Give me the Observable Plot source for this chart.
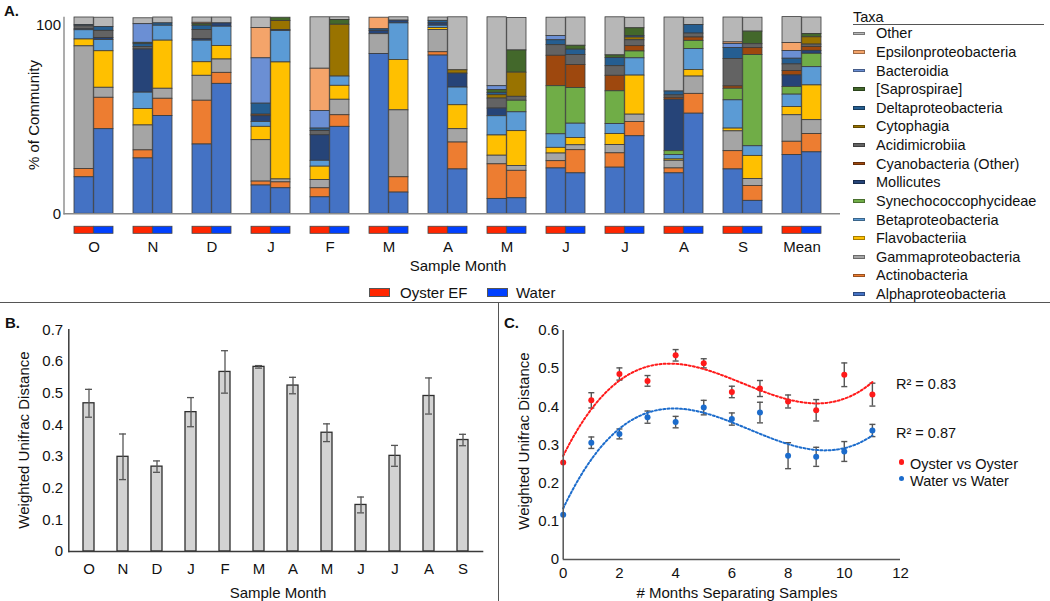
<!DOCTYPE html>
<html><head><meta charset="utf-8">
<script src="https://cdn.jsdelivr.net/npm/d3@7"></script>
<script src="https://cdn.jsdelivr.net/npm/@observablehq/plot@0.6"></script>
<style>
body{margin:0;background:#fff;font-family:"Liberation Sans",Arial,sans-serif;color:#111;}
#root{position:relative;width:1050px;height:601px;overflow:hidden;background:#fff;}
.t{position:absolute;white-space:nowrap;line-height:1;}
</style></head>
<body><div id="root"></div>
<script>
// ---------- Panel A data ----------
const groupsA = ["O","N","D","J","F","M","A","M","J","J","A","S","Mean"];
const sampleTypes = ["Oyster EF","Water"];
const taxa = ["Other","Epsilonproteobacteria","Bacteroidia","[Saprospirae]","Deltaproteobacteria","Cytophagia","Acidimicrobiia","Cyanobacteria (Other)","Mollicutes","Synechococcophycideae","Betaproteobacteria","Flavobacteriia","Gammaproteobacteria","Actinobacteria","Alphaproteobacteria"];
const taxaColors = ["#b7b7b7","#f4a46a","#6b8fd4","#43682b","#255e91","#997300","#636363","#9e480e","#264478","#70ad47","#5b9bd5","#ffc000","#a5a5a5","#ed7d31","#4472c4"];
// values per bar: O-oyster, O-water, N-oyster, N-water, ... Mean-oyster, Mean-water (% of community)
const other    = [3.8,4.7, 3.0,3.0, 2.7,3.0, 5.4,0, 26.2,1.4, 0,1.7, 1.7,27.0, 35.1,16.6, 9.3,14.4, 19.4,5.4, 37.7,3.7, 12.7,7.1, 13.2,8.4];
const epsilon  = [0,0, 0,0, 0.7,0, 15.4,0, 21.5,0, 5.9,0, 0,0, 0,0, 0,0, 0,0, 0,0, 0.8,0, 4.1,0];
const bacteroidia = [0,0, 9.5,0, 0,0, 23.1,0, 9.0,0, 0,0, 0,0, 2.0,0, 2.2,0, 0,0, 0,0, 2.0,0, 3.9,0];
const saprospirae = [0,0, 0.7,0, 0.8,0, 0,1.7, 0,2.4, 0,0, 0,0, 1.4,11.3, 0,2.0, 1.4,3.9, 0,0, 0,6.4, 0,1.7];
const delta    = [0.7,2.0, 1.5,1.2, 2.2,0, 5.6,0, 1.2,0, 0.8,0, 1.3,0, 1.2,0, 2.5,2.7, 4.1,0.8, 2.0,4.4, 5.6,0, 2.9,0];
const cytophagia = [0,0, 0,0, 0,0, 0,4.6, 0,26.4, 0,0, 0,1.7, 1.7,12.3, 0,0, 0,1.4, 0,0, 0,0, 0,3.7];
const acidimicrobiia = [1.5,3.7, 1.2,0, 4.6,0, 0,0, 2.2,0, 0,0, 0,0, 5.1,2.0, 5.4,5.1, 4.9,3.0, 1.2,2.0, 14.0,2.0, 3.4,1.2];
const cyanobacteria = [0,0, 0,0, 0,0, 0.8,0, 0,0, 0,0, 0,0, 0,0, 15.5,11.7, 7.9,2.7, 1.0,1.7, 1.2,3.5, 2.2,2.0];
const mollicutes = [0.5,1.0, 22.0,0, 0.8,1.7, 2.9,0.5, 13.0,0, 1.7,1.4, 1.2,7.1, 3.9,0, 0,0, 0,0, 26.2,0, 0,0, 5.9,1.5];
const synecho  = [0,0, 0,0, 0,0, 0,0, 0,0, 0,0, 0,0, 0,5.9, 24.5,18.2, 16.7,3.5, 2.0,4.2, 5.9,46.5, 3.9,6.8];
const beta     = [4.7,5.7, 8.3,7.6, 11.0,9.8, 2.5,16.0, 3.0,4.7, 0,18.6, 1.2,9.0, 9.8,9.6, 6.9,7.3, 5.1,8.8, 2.2,10.6, 14.4,4.9, 6.3,9.3];
const flavo    = [3.5,18.6, 8.4,24.5, 6.9,6.9, 6.8,59.6, 6.8,7.1, 0,25.7, 1.0,12.2, 10.3,17.7, 2.9,3.7, 5.6,19.9, 0.7,3.4, 1.4,11.8, 4.2,17.7];
const gamma    = [62.5,5.1, 12.7,5.1, 12.7,6.8, 21.1,1.5, 4.2,7.9, 10.1,34.1, 11.3,6.8, 4.4,2.5, 3.9,2.5, 4.2,3.7, 3.9,8.8, 10.1,3.5, 13.5,7.1];
const actino   = [4.2,16.0, 4.1,8.8, 22.3,5.6, 2.0,3.0, 4.6,5.9, 0,7.8, 1.7,13.7, 17.6,14.0, 3.7,11.8, 7.3,7.3, 2.5,10.1, 9.3,7.6, 6.8,9.3];
const alpha    = [18.6,43.1, 28.2,49.8, 35.3,66.2, 14.4,13.0, 8.4,44.3, 81.4,10.8, 80.6,22.6, 7.6,7.9, 23.1,20.6, 23.5,39.5, 20.6,51.0, 22.6,6.6, 29.9,31.3];
const taxaValues = [other,epsilon,bacteroidia,saprospirae,delta,cytophagia,acidimicrobiia,cyanobacteria,mollicutes,synecho,beta,flavo,gamma,actino,alpha];
const yTicksA = [0,100];

// ---------- Panel B data ----------
const monthsB = ["O","N","D","J","F","M","A","M","J","J","A","S"];
const distB = [0.468,0.299,0.268,0.440,0.567,0.583,0.524,0.375,0.147,0.302,0.491,0.352];
const errB  = [0.044,0.072,0.018,0.046,0.067,0.004,0.026,0.028,0.025,0.033,0.057,0.018];
const yTicksB = [0,0.1,0.2,0.3,0.4,0.5,0.6,0.7];

// ---------- Panel C data ----------
const monthsApart = [0,1,2,3,4,5,6,7,8,9,10,11];
const oysterDist = [0.254,0.417,0.486,0.468,0.535,0.514,0.439,0.448,0.414,0.391,0.484,0.432];
const oysterErr  = [0,0.020,0.016,0.014,0.015,0.012,0.015,0.021,0.017,0.028,0.031,0.030];
const waterDist  = [0.117,0.306,0.329,0.373,0.360,0.398,0.368,0.385,0.272,0.269,0.283,0.338];
const waterErr   = [0,0.015,0.013,0.016,0.015,0.019,0.016,0.027,0.034,0.025,0.026,0.016];
const xTicksC = [0,2,4,6,8,10,12];
const yTicksC = [0,0.1,0.2,0.3,0.4,0.5,0.6];
const r2Labels = ["R² = 0.83","R² = 0.87"];

// ---------- helpers ----------
const root = document.getElementById("root");
const FONT = "Liberation Sans, Arial, sans-serif";
function place(svg, left, top){ svg.style.position="absolute"; svg.style.left=left+"px"; svg.style.top=top+"px"; svg.style.overflow="visible"; root.appendChild(svg); }
function text(str, cx, cy, opts={}){
  const d=document.createElement("div"); d.className="t"; d.textContent=str;
  d.style.fontSize=(opts.size||15)+"px"; if(opts.bold) d.style.fontWeight="bold";
  d.style.left=cx+"px"; d.style.top=cy+"px";
  const ax = opts.align==="left" ? "0" : "-50%";
  d.style.transform=`translate(${ax},-50%)`;
  if(opts.rotate){ d.style.transformOrigin="0 0"; d.style.transform="rotate(-90deg) translate(-50%,-50%)"; }
  root.appendChild(d); return d;
}
function box(left, top, w, h, bg, border){
  const d=document.createElement("div"); d.style.position="absolute";
  d.style.left=left+"px"; d.style.top=top+"px"; d.style.width=w+"px"; d.style.height=h+"px";
  d.style.background=bg; if(border) d.style.border=border; d.style.boxSizing="border-box";
  root.appendChild(d); return d;
}
const fmt1 = d => d===0 ? "0" : d3.format(".1f")(d);

// ---------- Panel A ----------
const rowsA = [];
taxa.forEach((t,k)=> taxaValues[k].forEach((v,j)=>{ if(v>0) rowsA.push({taxon:t, group:Math.floor(j/2), type:sampleTypes[j%2], pct:v}); }));
const wA=845, hA=300, mlA=63.5, mrA=5, pinA=0.334, poutA=0.2196;
const stepA=(wA-mlA-mrA)/(groupsA.length-pinA+2*poutA);
const halfA=stepA*(1-pinA)/2;
const stackOrder = taxa.slice().reverse();
const groupKeys = groupsA.map((g,i)=>i);
const barStyle = {stroke:"#3a3a3a", strokeWidth:0.8};
const plotA = Plot.plot({
  width:wA, height:hA, marginLeft:mlA, marginRight:mrA, marginTop:17, marginBottom:86.7,
  style:{fontFamily:FONT, fontSize:"15px", color:"#111", background:"transparent"},
  x:{type:"band", domain:groupKeys, paddingInner:pinA, paddingOuter:poutA, align:0.358, axis:null},
  y:{domain:[0,100], axis:null},
  color:{type:"ordinal", domain:taxa, range:taxaColors},
  marks:[
    Plot.barY(rowsA.filter(d=>d.type==="Oyster EF"), Plot.stackY({order:stackOrder},{x:"group", y:"pct", z:"taxon", fill:"taxon", insetRight:halfA, ...barStyle})),
    Plot.barY(rowsA.filter(d=>d.type==="Water"), Plot.stackY({order:stackOrder},{x:"group", y:"pct", z:"taxon", fill:"taxon", insetLeft:halfA, ...barStyle})),
    Plot.barY(groupKeys, {x:d=>d, y1:-6.6, y2:-10.2, fill:"#ff2600", stroke:"#444", strokeWidth:0.8, insetRight:halfA}),
    Plot.barY(groupKeys, {x:d=>d, y1:-6.6, y2:-10.2, fill:"#0040ff", stroke:"#444", strokeWidth:0.8, insetLeft:halfA}),
    Plot.ruleY([0], {stroke:"#8a8a8a", strokeWidth:1.4}),
    Plot.frame({anchor:"left", stroke:"#8a8a8a", strokeWidth:1.4}),
    Plot.axisY({ticks:[yTicksA[0]], tickSize:0, tickPadding:3, fontSize:15, label:null}),
    Plot.axisY({ticks:[yTicksA[1]], tickSize:0, tickPadding:3, dy:8, fontSize:15, label:null}),
    Plot.axisX({tickSize:0, tickPadding:28, tickFormat:i=>groupsA[i], fontSize:15, label:null})
  ]
});
place(plotA, 0, 0);

// ---------- Panel B ----------
const rowsB = monthsB.map((m,i)=>({i, v:distB[i], e:errB[i]}));
const errColor = "#555";
const plotB = Plot.plot({
  width:497, height:296, marginLeft:68.3, marginRight:13.7, marginTop:24.3, marginBottom:50,
  style:{fontFamily:FONT, fontSize:"15px", color:"#111", background:"transparent"},
  x:{type:"band", domain:d3.range(monthsB.length), paddingInner:0.68, paddingOuter:0.34, axis:null},
  y:{domain:[0,0.7], axis:null},
  marks:[
    Plot.barY(rowsB, {x:"i", y:"v", fill:"#d3d3d3", stroke:"#2e2e2e", strokeWidth:1.3}),
    Plot.ruleX(rowsB, {x:"i", y1:d=>d.v-d.e, y2:d=>d.v+d.e, stroke:errColor, strokeWidth:1.3}),
    Plot.tickY(rowsB, {x:"i", y:d=>d.v-d.e, insetLeft:2, insetRight:2, stroke:errColor, strokeWidth:1.3}),
    Plot.tickY(rowsB, {x:"i", y:d=>d.v+d.e, insetLeft:2, insetRight:2, stroke:errColor, strokeWidth:1.3}),
    Plot.ruleY([0], {stroke:"#3a3a3a", strokeWidth:1.5}),
    Plot.frame({anchor:"left", stroke:"#3a3a3a", strokeWidth:1.5}),
    Plot.axisY({ticks:yTicksB, tickSize:0, tickPadding:5.6, tickFormat:fmt1, fontSize:15, label:null}),
    Plot.axisX({tickSize:0, tickPadding:11.6, tickFormat:i=>monthsB[i], fontSize:15, label:null})
  ]
});
place(plotB, 0, 305);

// ---------- Panel C ----------
function cubicFit(xs, ys){
  const n=4, A=Array.from({length:n},()=>Array(n+1).fill(0));
  xs.forEach((x,k)=>{ for(let i=0;i<n;i++){ for(let j=0;j<n;j++) A[i][j]+=Math.pow(x,i+j); A[i][n]+=ys[k]*Math.pow(x,i);} });
  for(let i=0;i<n;i++){
    let p=i; for(let r=i+1;r<n;r++) if(Math.abs(A[r][i])>Math.abs(A[p][i])) p=r;
    [A[i],A[p]]=[A[p],A[i]];
    for(let r=0;r<n;r++) if(r!==i){ const f=A[r][i]/A[i][i]; for(let c=i;c<=n;c++) A[r][c]-=f*A[i][c]; }
  }
  return A.map((row,i)=>row[n]/row[i]);
}
const series = [
  {name:"Oyster vs Oyster", color:"#ff1a1a", ys:oysterDist, es:oysterErr},
  {name:"Water vs Water", color:"#1c6ccc", ys:waterDist, es:waterErr}
];
const ptsC = [], fitC = [];
series.forEach(s=>{
  monthsApart.forEach((x,i)=>ptsC.push({s:s.name, color:s.color, x, v:s.ys[i], e:s.es[i]}));
  const c = cubicFit(monthsApart, s.ys);
  const x0 = monthsApart[0], x1 = monthsApart[monthsApart.length-1];
  for(let k=0;k<=110;k++){ const x = x0+(x1-x0)*k/110; fitC.push({s:s.name, color:s.color, x, y:c[0]+c[1]*x+c[2]*x*x+c[3]*x*x*x}); }
});
const capSymbol = {draw(ctx,size){ const w=Math.sqrt(size); ctx.moveTo(-w/2,0); ctx.lineTo(w/2,0); }};
const withErr = ptsC.filter(d=>d.e>0);
const plotC = Plot.plot({
  width:550, height:296, marginLeft:62.7, marginRight:150, marginTop:25, marginBottom:42,
  style:{fontFamily:FONT, fontSize:"15px", color:"#111", background:"transparent"},
  x:{domain:[0,12], axis:null},
  y:{domain:[0,0.6], axis:null},
  marks:[
    Plot.ruleX(withErr, {x:"x", y1:d=>d.v-d.e, y2:d=>d.v+d.e, stroke:errColor, strokeWidth:1.4}),
    Plot.dot(withErr, {x:"x", y:d=>d.v-d.e, symbol:capSymbol, r:3.4, stroke:errColor, strokeWidth:1.4, fill:"none"}),
    Plot.dot(withErr, {x:"x", y:d=>d.v+d.e, symbol:capSymbol, r:3.4, stroke:errColor, strokeWidth:1.4, fill:"none"}),
    Plot.line(fitC.filter(d=>d.s===series[0].name), {x:"x", y:"y", stroke:series[0].color, strokeWidth:2, strokeDasharray:"2,2.2"}),
    Plot.line(fitC.filter(d=>d.s===series[1].name), {x:"x", y:"y", stroke:series[1].color, strokeWidth:2, strokeDasharray:"2,2.2"}),
    Plot.dot(ptsC, {x:"x", y:"v", r:3, fill:"color", stroke:"none"}),
    Plot.ruleY([0], {stroke:"#555", strokeWidth:1.5}),
    Plot.ruleX([0], {stroke:"#555", strokeWidth:1.5}),
    Plot.axisY({ticks:yTicksC, tickSize:0, tickPadding:4, tickFormat:fmt1, fontSize:15, label:null}),
    Plot.axisX({ticks:xTicksC, tickSize:0, tickPadding:8.3, fontSize:15, label:null})
  ]
});
place(plotC, 500, 305);

// ---------- text, legends, dividers ----------
text("A.", 4, 10, {bold:true, size:15, align:"left"});
text("B.", 5, 322, {bold:true, size:15, align:"left"});
text("C.", 504, 322, {bold:true, size:15, align:"left"});
text("% of Community", 33, 115, {rotate:true});
text("Sample Month", 458, 265);
text("Weighted Unifrac Distance", 23, 440, {rotate:true});
text("Sample Month", 278, 592);
text("Weighted Unifrac Distance", 523, 441, {rotate:true});
text("# Months Separating Samples", 737, 592);

// Panel A sample-type legend
box(369, 288, 21, 9, "#ff2600", "1px solid #555");
text(sampleTypes[0], 400, 292, {align:"left"});
box(487, 288, 21, 9, "#0040ff", "1px solid #555");
text(sampleTypes[1], 516, 292, {align:"left"});

// Taxa legend
text("Taxa", 853, 16.5, {align:"left", size:14.5});
box(853, 24, 191, 1.3, "#555");
taxa.forEach((t,i)=>{
  const cy = 33.3 + i*18.62;
  box(853, cy-1.8, 12, 3.6, taxaColors[i], "0.5px solid rgba(0,0,0,0.35)");
  text(t, 876, cy, {align:"left", size:14.5});
});

// Panel C legend
text(r2Labels[0], 896, 384, {align:"left", size:14.5});
text(r2Labels[1], 896, 433, {align:"left", size:14.5});
series.forEach((s,i)=>{
  const cy = 462 + i*16.5;
  const dot = box(899, cy-2.6, 5.2, 5.2, s.color); dot.style.borderRadius="50%";
  text(s.name, 910, cy+2, {align:"left", size:14.5});
});

// dividers
box(0, 301.5, 1050, 1.5, "#555");
box(497.5, 302, 1.5, 299, "#555");
</script>
</body></html>
